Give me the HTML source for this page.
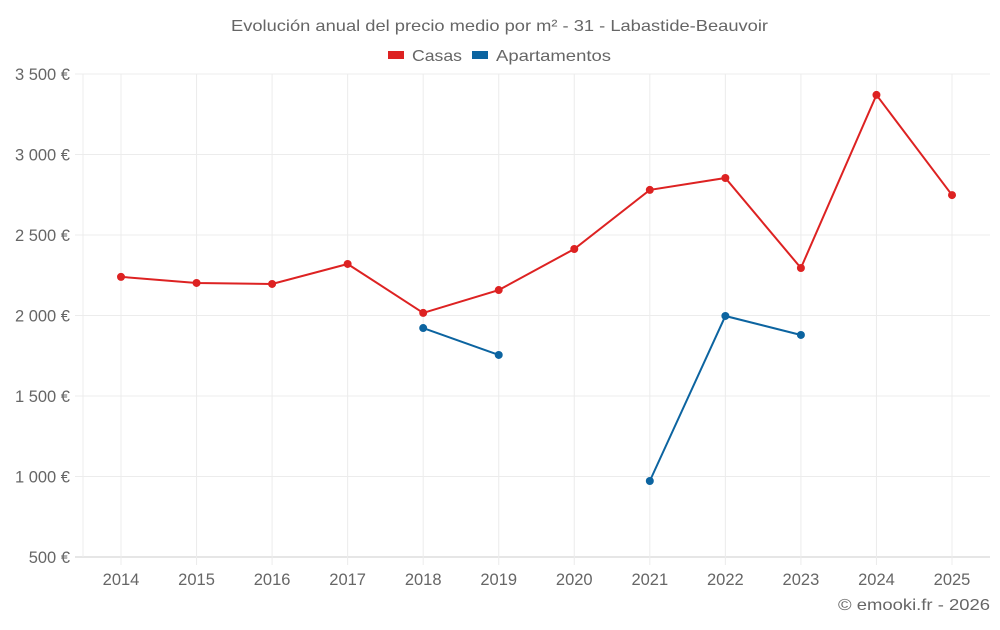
<!DOCTYPE html>
<html><head><meta charset="utf-8"><style>
body{margin:0;background:#fff;font-family:"Liberation Sans",sans-serif;}
svg text{font-family:"Liberation Sans",sans-serif;fill:#666;}
</style></head><body>
<svg id="c" width="1000" height="625" xmlns="http://www.w3.org/2000/svg">
<text x="231" y="31" textLength="537" lengthAdjust="spacingAndGlyphs" font-size="16">Evolución anual del precio medio por m² - 31 - Labastide-Beauvoir</text>
<g><rect x="388" y="51" width="16" height="8" fill="#dd2222"/><text x="412" y="61" textLength="50" lengthAdjust="spacingAndGlyphs" font-size="16">Casas</text></g>
<g><rect x="472" y="51" width="16" height="8" fill="#0c64a0"/><text x="496" y="61" textLength="115" lengthAdjust="spacingAndGlyphs" font-size="16">Apartamentos</text></g>
<g id="grid"></g><g id="marks"></g>
<text x="838" y="610" textLength="152" lengthAdjust="spacingAndGlyphs" font-size="16">© emooki.fr - 2026</text>
</svg>
<script>
const years=[2014,2015,2016,2017,2018,2019,2020,2021,2022,2023,2024,2025];
const casas=[2240,2202,2196,2320,2016,2158,2413,2780,2854,2295,3370,2748];
const apartamentos=[null,null,null,null,1922,1755,null,972,1997,1879,null,null];
const yTicks=[500,1000,1500,2000,2500,3000,3500];
const yTickLabels=["500 €","1 000 €","1 500 €","2 000 €","2 500 €","3 000 €","3 500 €"];
const NS="http://www.w3.org/2000/svg";
const L=83,R=990,T=74,B=557;
const x=i=>121+i*(952-121)/(years.length-1);
const y=v=>B-(v-500)/3000*(B-T);
function mk(t,a,p){const e=document.createElementNS(NS,t);for(const k in a)e.setAttribute(k,a[k]);p.appendChild(e);return e;}
const g=document.getElementById('grid'),m=document.getElementById('marks');
yTicks.forEach((v,i)=>{
 const ln=mk('line',{x1:75,x2:R,y1:y(v),y2:y(v),stroke:i==0?'#ccc':'#ececec'},g);
 
 
 const t=mk('text',{x:70,y:y(v)+6,'text-anchor':'end','font-size':16.5},g);t.textContent=yTickLabels[i];
 
 
});
const la=mk('line',{x1:L,x2:L,y1:T,y2:B,stroke:'#ececec'},g);


years.forEach((yr,i)=>{
 const ln=mk('line',{x1:x(i),x2:x(i),y1:T,y2:B+8,stroke:'#ececec'},g);
 
 
 const t=mk('text',{x:x(i),y:585,'text-anchor':'middle','font-size':16.5},g);t.textContent=yr;
 
 
});
function series(data,col,name){
 let seg=[];const segs=[];
 data.forEach((v,i)=>{if(v==null){if(seg.length)segs.push(seg);seg=[];}else seg.push([x(i),y(v)]);});
 if(seg.length)segs.push(seg);
 segs.forEach(s=>{const p=mk('polyline',{points:s.map(a=>a.join(',')).join(' '),fill:'none',stroke:col,'stroke-width':2},m);
  
  });
 data.forEach((v,i)=>{if(v==null)return;const c=mk('circle',{cx:x(i),cy:y(v),r:4,fill:col},m);
  
  });
}
series(casas,'#dd2222','casas');
series(apartamentos,'#0c64a0','apartamentos');
</script>
</body></html>
